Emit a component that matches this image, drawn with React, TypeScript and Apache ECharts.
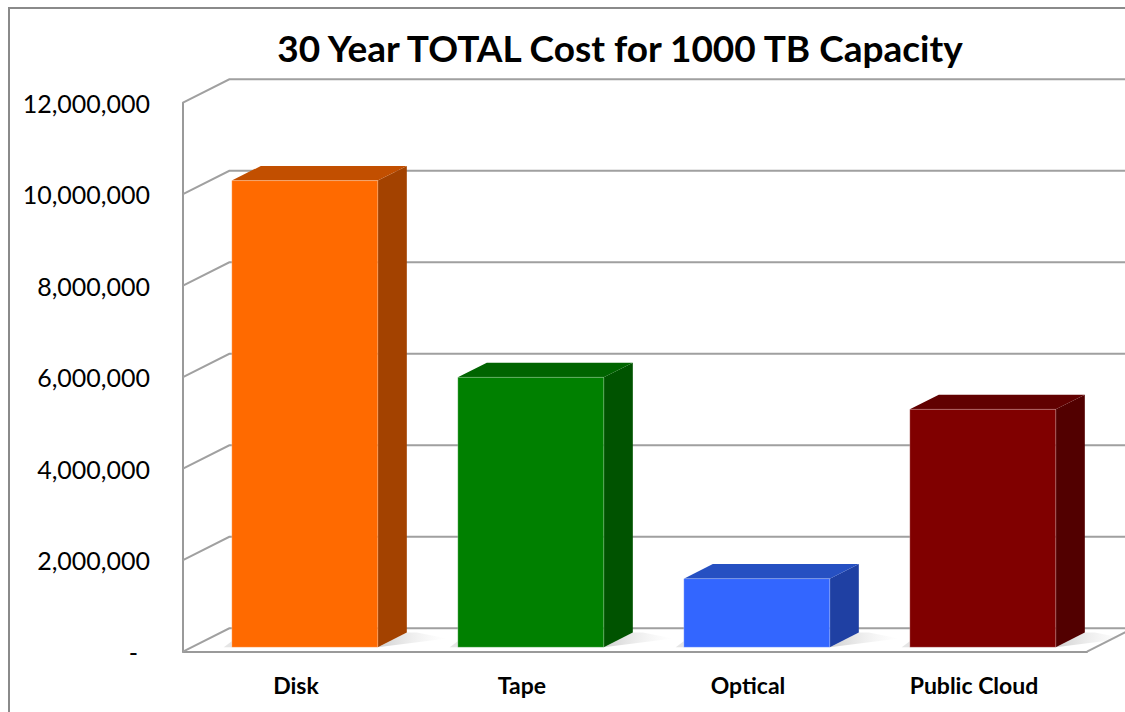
import React, { useEffect, useRef } from "react";
import * as echarts from "echarts";

const categories = ["Disk", "Tape", "Optical", "Public Cloud"];
const costs = [10200000, 5900000, 1500000, 5200000];
const yTicks = [0, 2000000, 4000000, 6000000, 8000000, 10000000, 12000000];
const frontColors = ["#FF6A00", "#008000", "#3366FF", "#800000"];
const topColors = ["#C24F00", "#006400", "#2650C2", "#610000"];
const sideColors = ["#A34200", "#005300", "#1F40A3", "#520000"];
const titleText = "30 Year TOTAL Cost for 1000 TB Capacity";

const FONT = "Lato, 'Open Sans', sans-serif";
const DX = 46.3;
const DY = -23.4;
const D0 = 0.19;
const D1 = 0.817;
const BAR_FRAC = 0.646;

function fmt(v: number): string {
  return v.toLocaleString("en-US");
}

export default function App() {
  const ref = useRef<HTMLDivElement>(null);
  useEffect(() => {
    if (!ref.current) return;
    const chart = echarts.init(ref.current, undefined, { renderer: "svg" });
    const option: any = {
      animation: false,
      backgroundColor: "#ffffff",
      grid: { left: 183, right: 38, top: 102.7, bottom: 60.3 },
      graphic: [
        {
          type: "rect",
          shape: { x: 9, y: 8, width: 1300, height: 900 },
          style: { fill: "none", stroke: "#8a8a8a", lineWidth: 2 },
          silent: true,
          z: 0,
        },
        {
          type: "text",
          x: 620,
          y: 47,
          style: {
            text: titleText,
            font: `bold 37px ${FONT}`,
            fill: "#000",
            textAlign: "center",
            textVerticalAlign: "middle",
          },
        },
      ],
      xAxis: {
        type: "category",
        data: categories,
        axisLine: { show: true, lineStyle: { color: "#9a9a9a", width: 2 } },
        axisTick: { show: false },
        axisLabel: {
          color: "#000",
          fontFamily: FONT,
          fontWeight: "bold",
          fontSize: 23,
          margin: 22,
        },
        splitLine: { show: false },
      },
      yAxis: {
        type: "value",
        min: 0,
        max: 12000000,
        interval: 2000000,
        axisLine: { show: true, lineStyle: { color: "#9a9a9a", width: 2 } },
        axisTick: { show: false },
        splitLine: { show: false },
        axisLabel: {
          color: "#000",
          fontFamily: FONT,
          fontSize: 25,
          margin: 33,
          formatter: (v: number) => (v === 0 ? "{d|-}" : fmt(v)),
          rich: {
            d: {
              fontFamily: FONT,
              fontSize: 25,
              color: "#000",
              padding: [0, 12, 0, 0],
            },
          },
        },
      },
      series: [
        {
          type: "custom",
          name: "walls",
          clip: false,
          silent: true,
          z: 1,
          data: yTicks.map((v) => [0, v]),
          renderItem: (params: any, api: any) => {
            const cs = params.coordSys;
            const v = api.value(1);
            const y = api.coord([0, v])[1];
            const gx = cs.x;
            const children: any[] = [
              {
                type: "polyline",
                shape: {
                  points: [
                    [gx, y],
                    [gx + DX, y + DY],
                    [1200, y + DY],
                  ],
                },
                style: { stroke: "#a0a0a0", lineWidth: 2, fill: "none" },
              },
            ];
            if (v === 0) {
              const rx = cs.x + cs.width;
              children.push({
                type: "line",
                shape: { x1: rx, y1: y, x2: rx + DX, y2: y + DY },
                style: { stroke: "#a0a0a0", lineWidth: 2 },
              });
            }
            return { type: "group", children };
          },
        },
        {
          type: "custom",
          name: "Cost",
          clip: false,
          z: 2,
          data: costs.map((v, i) => [i, v]),
          renderItem: (params: any, api: any) => {
            const i = api.value(0);
            const v = api.value(1);
            const top = api.coord([i, v]);
            const base = api.coord([i, 0]);
            const band = api.size([1, 0])[0];
            const w = band * BAR_FRAC;
            const x0 = top[0] - w / 2 + D0 * DX;
            const x1 = x0 + w;
            const yt = top[1] + D0 * DY;
            const yb = base[1] + D0 * DY;
            const ddx = (D1 - D0) * DX;
            const ddy = (D1 - D0) * DY;
            return {
              type: "group",
              children: [
                {
                  type: "polygon",
                  shape: {
                    points: [
                      [x1, yb],
                      [x1 + ddx + 40, yb + ddy + 6],
                      [x1 + ddx + 10, yb + ddy],
                      [x1 + ddx, yb + ddy],
                    ],
                  },
                  style: {
                    fill: new echarts.graphic.LinearGradient(0, 0, 1, 0, [
                      { offset: 0, color: "rgba(120,120,120,0.35)" },
                      { offset: 1, color: "rgba(200,200,200,0)" },
                    ]),
                  },
                },
                {
                  type: "polygon",
                  shape: {
                    points: [
                      [x0 - 8, yb],
                      [x0, yb - 6],
                      [x0, yb],
                    ],
                  },
                  style: { fill: "rgba(150,150,150,0.25)" },
                },
                {
                  type: "polygon",
                  shape: {
                    points: [
                      [x1, yt],
                      [x1, yb],
                      [x1 + ddx, yb + ddy],
                      [x1 + ddx, yt + ddy],
                    ],
                  },
                  style: { fill: sideColors[i] },
                },
                {
                  type: "polygon",
                  shape: {
                    points: [
                      [x0, yt],
                      [x1, yt],
                      [x1 + ddx, yt + ddy],
                      [x0 + ddx, yt + ddy],
                    ],
                  },
                  style: { fill: topColors[i] },
                },
                {
                  type: "rect",
                  shape: { x: x0, y: yt, width: w, height: yb - yt },
                  style: {
                    fill: frontColors[i],
                    stroke: "rgba(255,255,255,0.25)",
                    lineWidth: 1,
                  },
                },
              ],
            };
          },
        },
      ],
    };
    chart.setOption(option);
    return () => chart.dispose();
  }, []);
  return (
    <div
      ref={ref}
      style={{
        position: "fixed",
        left: 0,
        top: 0,
        width: 1125,
        height: 712,
        background: "#fff",
      }}
    />
  );
}
